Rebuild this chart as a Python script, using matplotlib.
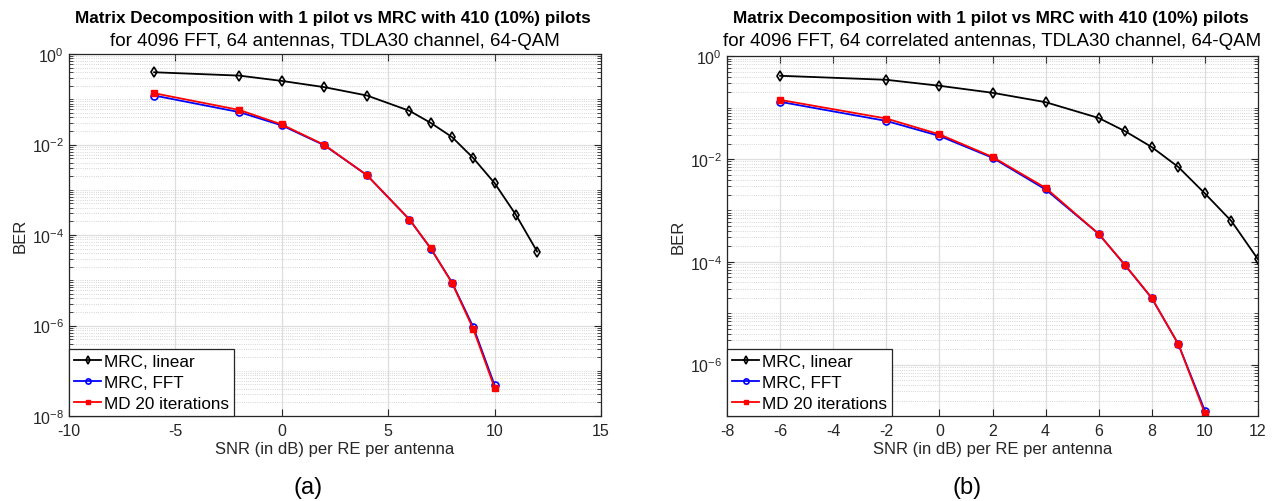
import numpy as np
import matplotlib
matplotlib.use('Agg')
import matplotlib.pyplot as plt
from matplotlib.ticker import FixedLocator, LogLocator, NullFormatter

plt.rcParams['font.family'] = ['Liberation Sans', 'DejaVu Sans']
plt.rcParams['mathtext.fontset'] = 'custom'
plt.rcParams['mathtext.rm'] = 'Liberation Sans'

# (a) 64 antennas
snr_a_lin = [-6, -2, 0, 2, 4, 6, 7, 8, 9, 10, 11, 12]
ber_a_lin = [0.395, 0.333, 0.254, 0.185, 0.121, 0.0555, 0.030, 0.0146, 0.0050, 0.0014, 2.8e-4, 4.3e-5]
snr_a = [-6, -2, 0, 2, 4, 6, 7, 8, 9, 10]
ber_a_fft = [0.121, 0.052, 0.0264, 0.0096, 0.0021, 2.2e-4, 5.0e-5, 8.9e-6, 9.2e-7, 4.8e-8]
ber_a_md = [0.136, 0.058, 0.0277, 0.0098, 0.0021, 2.2e-4, 5.1e-5, 8.7e-6, 8.3e-7, 4.2e-8]

# (b) 64 correlated antennas
snr_b_lin = [-6, -2, 0, 2, 4, 6, 7, 8, 9, 10, 11, 12]
ber_b_lin = [0.418, 0.349, 0.267, 0.195, 0.128, 0.063, 0.0347, 0.0171, 0.0070, 0.00214, 6.2e-4, 1.12e-4]
snr_b = [-6, -2, 0, 2, 4, 6, 7, 8, 9, 10]
ber_b_fft = [0.130, 0.0552, 0.0282, 0.0106, 0.00256, 3.5e-4, 8.5e-5, 1.96e-5, 2.5e-6, 1.26e-7]
ber_b_md = [0.142, 0.0615, 0.0303, 0.0110, 0.00275, 3.5e-4, 8.6e-5, 1.98e-5, 2.5e-6, 1.12e-7]

title1 = 'Matrix Decomposition with 1 pilot vs MRC with 410 (10%) pilots'
title2_a = 'for 4096 FFT, 64 antennas, TDLA30 channel, 64-QAM'
title2_b = 'for 4096 FFT, 64 correlated antennas, TDLA30 channel, 64-QAM'

W, H = 1273, 502
fig = plt.figure(figsize=(W/100, H/100), dpi=100)


def setup(ax, xlim, xticks, ylim, yticks):
    ax.set_yscale('log')
    ax.set_xlim(xlim)
    ax.set_ylim(ylim)
    ax.set_xticks(xticks)
    ax.set_xticklabels(['%g' % t for t in xticks])
    ax.yaxis.set_major_locator(FixedLocator(yticks))
    ax.yaxis.set_minor_locator(LogLocator(base=10, subs=np.arange(1, 10), numticks=100))
    ax.yaxis.set_minor_formatter(NullFormatter())
    ax.grid(which='major', color='#dedede', lw=0.9, ls='-')
    ax.grid(which='minor', axis='y', color='#c8c8c8', lw=0.6, ls=':')
    ax.set_axisbelow(True)
    ax.tick_params(which='both', direction='in', top=True, right=True, labelsize=11.5,
                   color='#262626', labelcolor='#262626')
    ax.tick_params(axis='x', pad=5)
    ax.tick_params(which='major', length=5, width=0.8)
    ax.tick_params(which='minor', length=3, width=0.6)
    for s in ax.spines.values():
        s.set_color('#262626')
        s.set_linewidth(0.9)
    ax.set_xlabel('SNR (in dB) per RE per antenna', fontsize=12, color='#262626', labelpad=2)
    ax.set_ylabel('BER', fontsize=12, color='#262626', labelpad=3)


def curves(ax, x1, y1, x2, y2, y3):
    ax.plot(x1, y1, color='k', lw=1.3, marker='d', ms=5, mfc='none', mew=1.2, label='MRC, linear')
    ax.plot(x2, y2, color='b', lw=1.3, marker='o', ms=5, mfc='none', mew=1.2, label='MRC, FFT')
    ax.plot(x2, y3, color='r', lw=1.3, marker='s', ms=4, mfc='r', mew=1.0, label='MD 20 iterations')
    leg = ax.legend(loc='lower left', fontsize=12.3, frameon=True, fancybox=False,
                    borderaxespad=0, handlelength=1.6, handletextpad=0.15,
                    labelspacing=0.35, borderpad=0.3, markerscale=0.75)
    leg.get_frame().set_edgecolor('#262626')
    leg.get_frame().set_linewidth(0.9)
    leg.get_frame().set_alpha(1)


ax1 = fig.add_axes([69/W, 1 - 417/H, 532/W, 362/H])
setup(ax1, (-10, 15), [-10, -5, 0, 5, 10, 15], (1e-8, 1), [1e-8, 1e-6, 1e-4, 1e-2, 1])
curves(ax1, snr_a_lin, ber_a_lin, snr_a, ber_a_fft, ber_a_md)

ax2 = fig.add_axes([727/W, 1 - 417/H, 531/W, 359.7/H])
setup(ax2, (-8, 12), list(range(-8, 13, 2)), (1e-7, 1), [1e-6, 1e-4, 1e-2, 1])
curves(ax2, snr_b_lin, ber_b_lin, snr_b, ber_b_fft, ber_b_md)

# titles
fig.text(333/W, 1 - 18/H, title1, ha='center', va='center', fontsize=12.3, fontweight='bold')
fig.text(335/W, 1 - 42/H, title2_a, ha='center', va='center', fontsize=13.5)
fig.text(991/W, 1 - 18/H, title1, ha='center', va='center', fontsize=12.3, fontweight='bold')
fig.text(992/W, 1 - 42/H, title2_b, ha='center', va='center', fontsize=13.5)

# panel labels
fig.text(308/W, 1 - 488/H, '(a)', ha='center', va='center', fontsize=17)
fig.text(967/W, 1 - 488/H, '(b)', ha='center', va='center', fontsize=17)

plt.savefig('out.png', dpi=100)
